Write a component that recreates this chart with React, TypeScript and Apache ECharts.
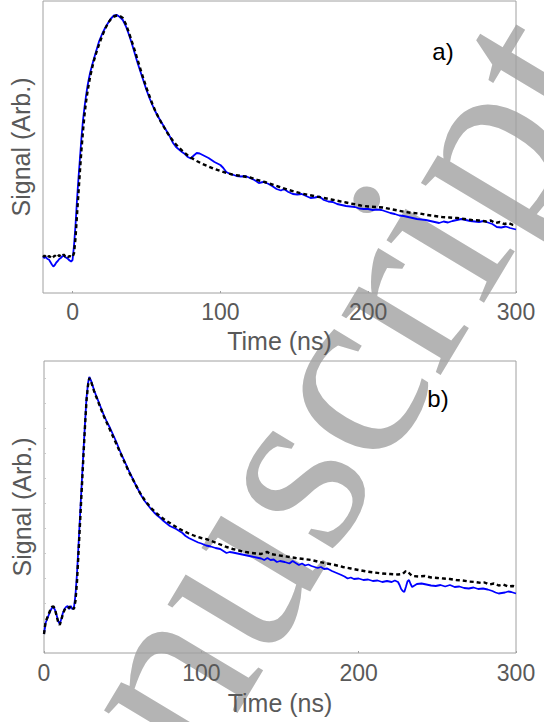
import React, { useEffect, useRef } from "react";
import * as echarts from "echarts";

// ---------- data (time in ns, signal in arbitrary units) ----------
const xTicks = [0, 100, 200, 300];
const yTickValues = [0, 25, 50, 75, 100, 125, 150, 175, 200, 225, 250, 275];

const panelAMeasured: [number, number][] = [
  [-20, 36.5], [-19, 35], [-18, 36], [-17, 34], [-16, 33.5], [-15, 31], [-14, 28.5], [-13, 26.5], [-12, 28],
  [-11, 30.5], [-10, 32], [-9, 34], [-8, 35], [-7, 36.5], [-6, 37.5], [-5, 36], [-4, 35], [-3, 34], [-2, 32.5],
  [-1, 31.5], [0, 33], [1, 48], [2, 68], [3, 93], [4, 115], [5, 135], [6, 155], [7, 172], [8, 185], [9, 196],
  [10, 206], [11, 214], [12, 221], [14, 232], [16, 242], [18, 252], [20, 259], [22, 265], [24, 270], [26, 274.5],
  [28, 277.5], [30, 278], [32, 276], [34, 273], [36, 267], [38, 259], [40, 250], [42, 240], [44, 230], [46, 221],
  [48, 212], [50, 203], [52, 195], [54, 188], [56, 181.5], [58, 176], [60, 171], [62, 166], [64, 161], [66, 156],
  [68, 150], [70, 146], [72, 143.5], [74, 141], [76, 139], [78, 136], [80, 134.5], [82, 137.5], [84, 140],
  [86, 139.5], [88, 138], [90, 136.5], [92, 135], [94, 133], [96, 131], [98, 129.5], [100, 128], [102, 125],
  [104, 121], [106, 119.5], [108, 118.5], [111, 117], [114, 116.5], [117, 117], [120, 115], [123, 113], [126, 110],
  [129, 111], [132, 109.5], [135, 107], [138, 104], [141, 102.5], [143, 104], [146, 101], [149, 99], [152, 98.5],
  [155, 99], [158, 97], [161, 95], [164, 95.5], [167, 96.5], [170, 93], [173, 91.5], [176, 91], [179, 89], [182, 88],
  [185, 87], [188, 86.5], [191, 86], [194, 84.5], [197, 84], [200, 84], [203, 83], [206, 83.5], [209, 83],
  [212, 81.5], [215, 80], [218, 79], [221, 77.5], [224, 77], [227, 76], [230, 75], [233, 74], [236, 73.5], [239, 73],
  [242, 72], [245, 71], [248, 70], [251, 71.5], [254, 70.5], [257, 72], [260, 73], [263, 74], [266, 73], [269, 72],
  [272, 71.5], [275, 71], [278, 72], [281, 70.5], [284, 69], [287, 66], [290, 65.5], [293, 66.5], [296, 65],
  [300, 63.5],
];

const panelAFit: [number, number][] = [
  [-20, 36], [-19, 37.5], [-18, 36], [-17, 35], [-16, 37], [-15, 36], [-14, 34.5], [-13, 36], [-12, 37.5],
  [-11, 35.5], [-10, 36.5], [-9, 38], [-8, 36], [-7, 37], [-6, 38.5], [-5, 36.5], [-4, 37.5], [-3, 36], [-2, 37],
  [-1, 36], [0, 36], [1, 40], [2, 55], [3, 78], [4, 100], [5, 122], [6, 143], [7, 161], [8, 177], [9, 190],
  [10, 200], [11, 209], [12, 217], [14, 230], [16, 240], [18, 249], [20, 257], [22, 264], [24, 270], [26, 274],
  [28, 276.5], [30, 277.5], [32, 277], [34, 275], [36, 269], [38, 261], [40, 252], [42, 243], [44, 233],
  [46, 223.5], [48, 214], [50, 205], [52, 197], [54, 189], [56, 182], [58, 176], [60, 170.5], [62, 165.5],
  [64, 160.5], [66, 156], [68, 152], [70, 148.5], [72, 145.5], [74, 142.5], [76, 140], [78, 137.5], [80, 135.5],
  [84, 132], [88, 129], [92, 126.5], [96, 124], [100, 122], [104, 120], [108, 118.5], [112, 117.5], [116, 116.5],
  [120, 115.5], [125, 113], [130, 111], [135, 108.5], [140, 106], [145, 103.5], [150, 101.5], [155, 99.5],
  [160, 98], [165, 96.5], [170, 95], [175, 93.5], [180, 92], [185, 90.5], [190, 89], [195, 87.5], [200, 86.5],
  [205, 86], [210, 85.5], [215, 84], [220, 82.5], [225, 81], [230, 80], [235, 79.5], [240, 78], [245, 77],
  [250, 76], [255, 75.5], [260, 75], [265, 74], [270, 73], [275, 72.5], [280, 71.5], [283, 72.5], [286, 70],
  [289, 71], [292, 69], [295, 70], [298, 68], [300, 68.5],
];

const panelBMeasured: [number, number][] = [
  [0, 19], [1, 30], [2, 34], [3, 38], [4, 42], [5, 45], [6, 46], [7, 43], [8, 38], [9, 32], [10, 29], [11, 34],
  [12, 40], [13, 44], [14, 46], [15, 47], [16, 44], [17, 47], [18, 44], [19, 45], [20, 58], [21, 80], [22, 110],
  [23, 140], [24, 170], [25, 200], [26, 228], [27, 255], [28, 270], [28.8, 276], [30, 272], [31, 267], [32, 262],
  [34, 254], [36, 246], [38, 238], [40, 231], [42, 225], [44, 218], [46, 211], [48, 203], [50, 196], [52, 189],
  [54, 182], [56, 175.5], [58, 169], [60, 163], [62, 157], [64, 152], [66, 148], [68, 144], [70, 140.5],
  [72, 137.5], [74, 135], [76, 132], [78, 129.5], [80, 127], [82, 125.5], [84, 124], [86, 122], [88, 120],
  [90, 117], [92, 115], [94, 113.5], [96, 112], [98, 110.5], [100, 109.5], [103, 107.5], [106, 106.5], [109, 105],
  [112, 104], [114, 102], [116, 100], [118, 101], [120, 100.5], [123, 99.5], [126, 98.5], [129, 97.5], [132, 96.5],
  [135, 95.5], [138, 94.5], [140, 93], [142, 95], [144, 93], [146, 93.5], [148, 91], [150, 92], [153, 91],
  [156, 89.5], [158, 92], [160, 90], [162, 88], [164, 89.5], [166, 87.5], [168, 88.5], [170, 87], [172, 86],
  [174, 85], [176, 86], [178, 84], [180, 84.5], [183, 82], [186, 80], [189, 78], [191, 76.5], [193, 74.5],
  [195, 75.5], [197, 74], [200, 74.5], [203, 73], [206, 73.5], [209, 72], [212, 72.5], [215, 71], [218, 72],
  [221, 71], [223, 72.5], [225, 71], [226, 68], [227, 64], [228, 62], [229, 61], [230, 66], [231, 71.5], [232, 73],
  [233, 69], [234, 66], [235, 67], [237, 69], [240, 69.5], [243, 68.5], [246, 67.5], [249, 67], [252, 68],
  [255, 66.5], [258, 68], [261, 66], [264, 66.5], [267, 65], [270, 64.5], [273, 65.5], [276, 64], [279, 64.5],
  [282, 63.5], [285, 62], [287, 60.5], [289, 59.5], [291, 60], [293, 60.5], [295, 61.5], [297, 61], [299, 60],
  [300, 59.5],
];

const panelBFit: [number, number][] = [
  [0, 19], [1, 31], [2, 35], [3, 39], [4, 43], [5, 46], [6, 46.5], [7, 44], [8, 37], [9, 31], [10, 28], [11, 33],
  [12, 39], [13, 43], [14, 45], [15, 46], [16, 45], [17, 47], [18, 45], [19, 44], [20, 52], [21, 72], [22, 102],
  [23, 133], [24, 164], [25, 195], [26, 225], [27, 252], [28, 268], [28.8, 275], [30, 271], [31, 266], [32, 261],
  [34, 253], [36, 245], [38, 237], [40, 230], [42, 223], [44, 216], [46, 209], [48, 202], [50, 195], [52, 188],
  [54, 181], [56, 175], [58, 169], [60, 163], [62, 157.5], [64, 153], [66, 149], [68, 145], [70, 142], [72, 139],
  [74, 136.5], [76, 134], [78, 132], [80, 130], [84, 126], [88, 122.5], [92, 119.5], [96, 117], [100, 115],
  [104, 113.5], [108, 111], [112, 108.5], [116, 106], [120, 104], [125, 102], [130, 100.5], [135, 99.5], [138, 99],
  [140, 100.5], [142, 101], [144, 99], [148, 98], [152, 97], [156, 96], [160, 95], [165, 94], [170, 93], [175, 91],
  [180, 89.5], [185, 88], [190, 86], [195, 84.5], [200, 83], [205, 81.5], [210, 80.5], [215, 79.5], [220, 79],
  [225, 78.5], [228, 79], [230, 82], [232, 80], [234, 77], [238, 76.5], [242, 77], [246, 75.5], [250, 75],
  [254, 74.5], [258, 74], [262, 73], [266, 72.5], [270, 71.5], [274, 71], [278, 70], [280, 70.5], [283, 68.5],
  [286, 69.5], [289, 67.5], [292, 68.5], [295, 66.5], [298, 67], [300, 66],
];

const panelLabels = ["a)", "b)"];
const xName = "Time (ns)";
const yName = "Signal (Arb.)";
const watermarkText = "Manuscript";

const GRAY_TEXT = "#595959";
const BORDER = "#a0a0a0";

function makeXAxis(gridIndex: number, min: number, gap: number, margin: number) {
  return {
    type: "value",
    gridIndex,
    min,
    max: 300,
    name: xName,
    nameLocation: "middle",
    nameGap: gap,
    nameTextStyle: { fontFamily: "Liberation Sans", fontSize: 25, color: GRAY_TEXT },
    axisLine: { show: false },
    axisTick: { show: true, inside: true, length: 2, customValues: xTicks, lineStyle: { color: BORDER } },
    axisLabel: {
      customValues: xTicks,
      fontFamily: "Liberation Sans",
      fontSize: 23,
      color: GRAY_TEXT,
      margin,
    },
    splitLine: { show: false },
  };
}

function makeYAxis(gridIndex: number, ticks: boolean) {
  return {
    type: "value",
    gridIndex,
    min: 0,
    max: 292,
    name: yName,
    nameLocation: "middle",
    nameGap: 10,
    nameRotate: 90,
    nameTextStyle: { fontFamily: "Liberation Sans", fontSize: 25, color: GRAY_TEXT },
    axisLine: { show: false },
    axisTick: { show: ticks, inside: true, length: 2, customValues: yTickValues, lineStyle: { color: "#c8c8c8" } },
    axisLabel: { show: false },
    splitLine: { show: false },
  };
}

function lineSeries(data: [number, number][], idx: number, dashed: boolean) {
  return {
    type: "line",
    xAxisIndex: idx,
    yAxisIndex: idx,
    data,
    symbol: "none",
    showSymbol: false,
    silent: true,
    z: dashed ? 4 : 3,
    lineStyle: dashed
      ? { color: "#000000", width: 2.4, type: [4, 3] }
      : { color: "#0000ff", width: 1.8 },
  };
}

export default function App() {
  const ref = useRef<HTMLDivElement>(null);
  useEffect(() => {
    if (!ref.current) return;
    const chart = echarts.init(ref.current, undefined, { renderer: "svg" });
    chart.setOption({
      animation: false,
      backgroundColor: "#ffffff",
      grid: [
        { left: 43, right: 28, top: 1, height: 292, show: true, borderColor: BORDER, borderWidth: 1, backgroundColor: "transparent" },
        { left: 44, right: 28, top: 361, height: 292, show: true, borderColor: BORDER, borderWidth: 1, backgroundColor: "transparent" },
      ],
      xAxis: [makeXAxis(0, -20, 35, 7), makeXAxis(1, 0, 37, 8)],
      yAxis: [makeYAxis(0, false), makeYAxis(1, true)],
      series: [
        lineSeries(panelAMeasured, 0, false),
        lineSeries(panelAFit, 0, true),
        lineSeries(panelBMeasured, 1, false),
        lineSeries(panelBFit, 1, true),
      ],
      graphic: [
        {
          type: "text",
          x: 249.5,
          y: 527,
          rotation: 1.0297,
          z: -10,
          silent: true,
          style: {
            text: watermarkText,
            font: '252px "Liberation Serif"',
            fill: "#b4b4b4",
            align: "center",
            verticalAlign: "middle",
            textAlign: "center",
            textVerticalAlign: "middle",
          },
        },
        {
          type: "text",
          x: 443,
          y: 51,
          z: 10,
          style: {
            text: panelLabels[0],
            font: '24px "Liberation Sans"',
            fill: "#000000",
            align: "center",
            verticalAlign: "middle",
            textAlign: "center",
            textVerticalAlign: "middle",
          },
        },
        {
          type: "text",
          x: 438,
          y: 398,
          z: 10,
          style: {
            text: panelLabels[1],
            font: '24px "Liberation Sans"',
            fill: "#000000",
            align: "center",
            verticalAlign: "middle",
            textAlign: "center",
            textVerticalAlign: "middle",
          },
        },
      ],
    });
    return () => chart.dispose();
  }, []);
  return (
    <div
      ref={ref}
      style={{ position: "absolute", left: 0, top: 0, width: 544, height: 722 }}
    />
  );
}
